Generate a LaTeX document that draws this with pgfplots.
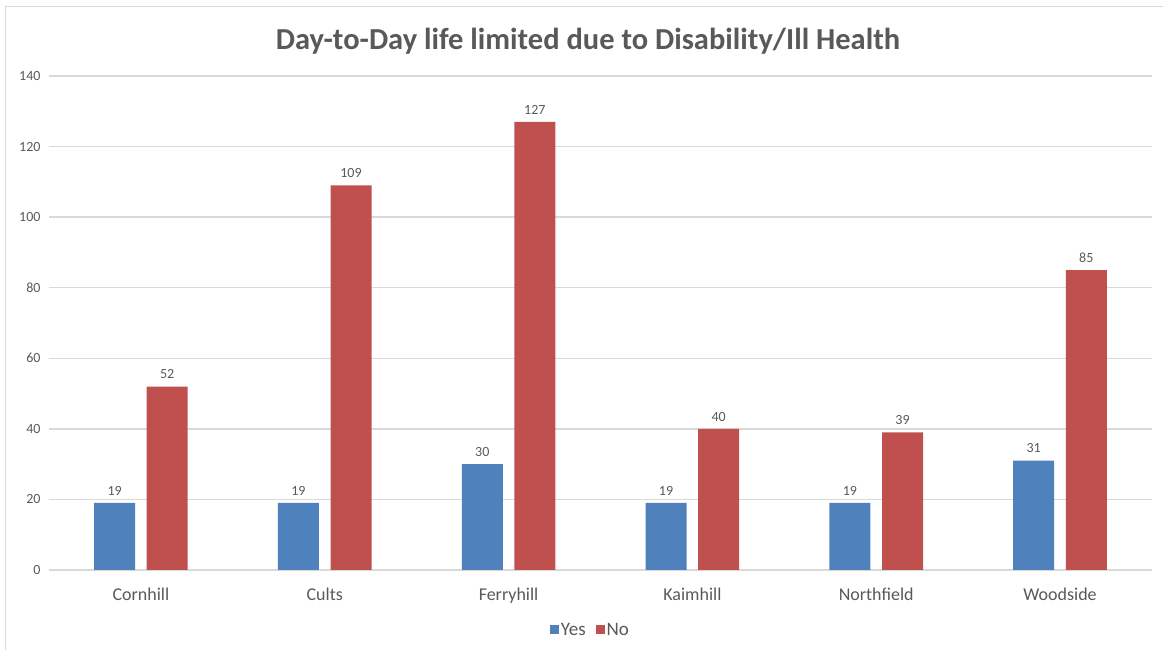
\documentclass[border=0pt]{standalone}
\usepackage{pgfplots}
\pgfplotsset{compat=1.18}
\usepackage{fontspec}
\setmainfont{Carlito}
\definecolor{cyes}{HTML}{4F81BD}
\definecolor{cno}{HTML}{C0504D}
\definecolor{ctext}{HTML}{595959}
\definecolor{cgrid}{HTML}{D9D9D9}
\begin{document}
\begin{tikzpicture}[x=1pt,y=1pt]
\useasboundingbox (0,0) rectangle (1163,650);
\draw[cgrid,line width=1pt] (5,0) -- (5,643) -- (1163,643);
\node[font=\fontsize{30.5}{34}\selectfont\bfseries,text=ctext] at (588,609) {Day-to-Day life limited due to Disability/Ill Health};
\begin{axis}[
  at={(49pt,80pt)}, anchor=south west,
  scale only axis, width=1103pt, height=494pt,
  xmin=-0.5, xmax=5.5, ymin=0, ymax=140,
  ytick={0,20,...,140},
  xtick={0,...,5},
  xticklabels={Cornhill,Cults,Ferryhill,Kaimhill,Northfield,Woodside},
  x tick label style={font=\fontsize{18}{21}\selectfont,text=ctext,yshift=-14pt},
  y tick label style={font=\fontsize{14}{16}\selectfont,text=ctext,xshift=-5pt},
  /pgf/number format/assume math mode=true,
  major tick length=0pt,
  axis line style={draw=none},
  ymajorgrids, grid style={cgrid,line width=1.4pt},
  ybar, bar width=41pt,
  nodes near coords,
  every node near coord/.append style={font=\fontsize{14}{16}\selectfont,text=ctext,yshift=4pt},
  legend style={at={(0.5,0)},anchor=center,xshift=-10pt,yshift=-60pt,draw=none,
    legend columns=-1,font=\fontsize{19}{22}\selectfont,text=ctext,
    /tikz/every even column/.append style={column sep=8pt}},
  legend image code/.code={\fill[#1] (0pt,-4.5pt) rectangle (9pt,4.5pt);},
]
\addplot[draw=none,fill=cyes,bar shift=-26.3pt] coordinates {(0,19) (1,19) (2,30) (3,19) (4,19) (5,31)};
\addplot[draw=none,fill=cno,bar shift=26.3pt] coordinates {(0,52) (1,109) (2,127) (3,40) (4,39) (5,85)};
\legend{Yes,No}
\end{axis}
\end{tikzpicture}
\end{document}
